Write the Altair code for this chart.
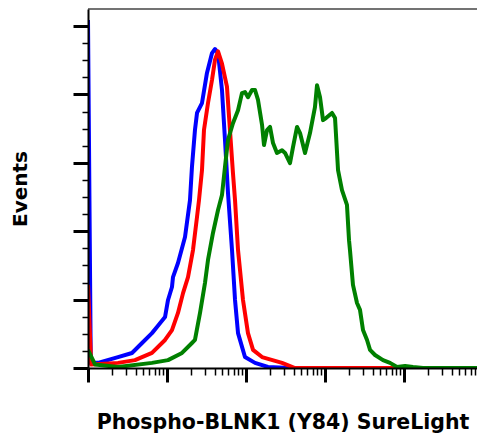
import math
import altair as alt
import pandas as pd

# log10 fluorescence intensity (decades) and event counts (relative, 0-105)
blue_x = [0.000, 0.035, 0.127, 0.380, 0.557, 0.684, 0.810, 0.873, 0.975, 1.013, 1.063, 1.076,
          1.139, 1.228, 1.291, 1.316, 1.354, 1.380, 1.443, 1.506, 1.570, 1.608, 1.646, 1.696,
          1.734, 1.772, 1.823, 1.861, 1.899, 1.987, 2.114, 2.278, 2.557, 5.000]
blue_y = [101.8, 1.5, 1.5, 3.2, 4.4, 7.3, 10.2, 12.0, 14.9, 19.9, 23.7, 26.6,
          30.7, 38.3, 49.1, 58.8, 69.6, 74.6, 77.5, 86.3, 92.1, 93.3, 92.1, 81.3,
          66.7, 51.2, 34.5, 19.9, 10.2, 3.2, 1.5, 0.3, 0.0, 0.0]

red_x = [0.000, 0.040, 0.380, 0.595, 0.810, 0.975, 1.063, 1.139, 1.203, 1.266, 1.329, 1.380,
         1.405, 1.443, 1.468, 1.519, 1.570, 1.608, 1.646, 1.696, 1.759, 1.797, 1.835, 1.861,
         1.899, 1.962, 2.025, 2.089, 2.203, 2.456, 2.620, 5.000]
red_y = [24.3, 1.0, 1.5, 2.3, 4.4, 8.2, 11.1, 16.1, 21.9, 26.6, 34.5, 44.2,
         49.1, 57.9, 69.6, 77.5, 84.3, 90.2, 92.6, 89.0, 82.3, 69.6, 57.0, 49.1,
         34.5, 19.9, 10.2, 5.3, 3.2, 1.5, 0.0, 0.0]

green_x = [0.000, 0.090, 0.380, 0.810, 1.013, 1.190, 1.316, 1.354, 1.418, 1.481, 1.519, 1.582,
           1.646, 1.696, 1.734, 1.772, 1.835, 1.899, 1.949, 1.987, 2.025, 2.076, 2.114, 2.152,
           2.203, 2.228, 2.266, 2.304, 2.342, 2.392, 2.456, 2.494, 2.557, 2.595, 2.646, 2.684,
           2.747, 2.810, 2.873, 2.899, 2.937, 2.975, 3.013, 3.089, 3.127, 3.165, 3.215, 3.278,
           3.304, 3.316, 3.354, 3.405, 3.443, 3.481, 3.532, 3.570, 3.633, 3.734, 3.823, 3.911,
           4.013, 4.114, 4.241, 5.000]
green_y = [5.3, 1.0, 0.3, 1.5, 2.3, 4.4, 7.3, 8.2, 16.1, 24.9, 31.6, 39.5,
           46.2, 50.6, 58.8, 66.7, 71.6, 75.4, 80.4, 80.7, 79.2, 81.3, 81.3, 78.4,
           71.1, 65.2, 69.6, 70.5, 65.8, 62.9, 63.7, 62.9, 59.9, 64.6, 70.5, 68.7,
           62.9, 68.7, 76.3, 82.7, 79.2, 72.5, 73.1, 74.6, 73.1, 57.9, 52.0, 47.7,
           37.4, 34.5, 24.3, 19.0, 17.0, 11.1, 8.2, 5.3, 3.8, 2.3, 1.5, 0.3,
           0.6, 0.3, 0.0, 0.0]

series_names = ["blue", "red", "green"]
series_colors = ["#0000ff", "#ff0000", "#008000"]

frames = []
for name, xs, ys in zip(series_names, [blue_x, red_x, green_x], [blue_y, red_y, green_y]):
    frames.append(pd.DataFrame({"logI": xs, "count": ys, "series": name}))
df = pd.concat(frames, ignore_index=True)

PLOT_W = 389
PLOT_H = 359
X_MAX = 4.924  # visible part of the 5-decade log axis (reference image is cropped on the right)

x_ticks = []
for d in range(5):
    for m in range(1, 10):
        v = round(d + math.log10(m), 4)
        if v <= X_MAX:
            x_ticks.append(v)
y_ticks = list(range(0, 101, 5))

major_x = "abs(datum.value - round(datum.value)) < 0.001"
major_y = "datum.value % 20 == 0"

x_axis = alt.Axis(
    values=x_ticks, labels=False, grid=False, zindex=1,
    domainColor="black", domainWidth=2, tickColor="black",
    tickSize={"condition": {"test": major_x, "value": 14}, "value": 7},
    tickWidth={"condition": {"test": major_x, "value": 3}, "value": 1.5},
    title="Phospho-BLNK1 (Y84) SureLight", titleFont="DejaVu Sans", titleFontSize=20.5,
    titleFontWeight="bold", titleColor="black", titlePadding=29,
)
y_axis = alt.Axis(
    values=y_ticks, labels=False, grid=False, zindex=1,
    domainColor="black", domainWidth=2, tickColor="black",
    tickSize={"condition": {"test": major_y, "value": 15}, "value": 6},
    tickWidth={"condition": {"test": major_y, "value": 3}, "value": 1.5},
    title="Events", titleFont="DejaVu Sans", titleFontSize=20,
    titleFontWeight="bold", titleColor="black", titlePadding=41,
)

layers = []
for name, col in zip(series_names, series_colors):
    layers.append(
        alt.Chart(df).transform_filter(alt.datum.series == name)
        .mark_line(color=col, strokeWidth=4, clip=True, strokeJoin="round")
        .encode(
            x=alt.X("logI:Q", scale=alt.Scale(domain=[0, X_MAX], nice=False, zero=False), axis=x_axis),
            y=alt.Y("count:Q", scale=alt.Scale(domain=[0, 105], nice=False), axis=y_axis),
        )
    )

chart = alt.layer(*layers).properties(
    width=PLOT_W, height=PLOT_H,
    padding={"left": 2, "top": 1, "right": 0, "bottom": 3},
).configure_view(stroke="#444444", strokeWidth=1.5, strokeDash=[PLOT_W, 4000])

chart.save("out.html", embed_options={"renderer": "svg", "actions": False})
